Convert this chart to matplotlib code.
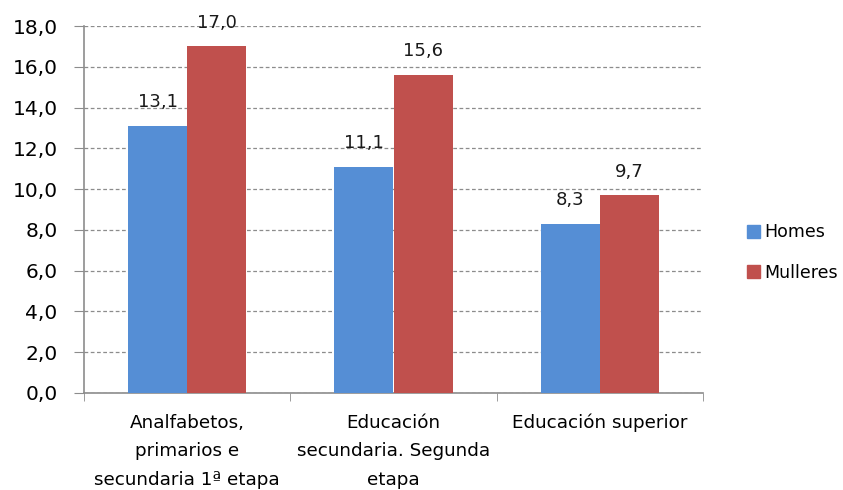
import matplotlib
matplotlib.use("Agg")
import matplotlib.pyplot as plt
import numpy as np
from matplotlib.patches import Patch

categories = ["Analfabetos,\nprimarios e\nsecundaria 1ª etapa",
              "Educación\nsecundaria. Segunda\netapa",
              "Educación superior"]
homes = [13.1, 11.1, 8.3]
mulleres = [17.0, 15.6, 9.7]
series_names = ["Homes", "Mulleres"]
yticks = [0, 2, 4, 6, 8, 10, 12, 14, 16, 18]

blue = "#558ED5"
red = "#C0504D"

plt.rcParams['font.family'] = ['DejaVu Sans']
fig = plt.figure(figsize=(8.43, 4.90), dpi=100)
ax = fig.add_axes([84/843, 1-393/490, (703-84)/843, (393-26)/490])

x = np.arange(len(categories))
w = 0.286
ax.bar(x - w/2, homes, w, color=blue, zorder=3)
ax.bar(x + w/2, mulleres, w, color=red, zorder=3)

for xi, v in zip(x, homes):
    ax.text(xi - w/2, v + 1.15, f"{v:.1f}".replace(".", ","), ha="center", va="center",
            fontsize=13, color="#1a1a1a")
for xi, v in zip(x, mulleres):
    ax.text(xi + w/2, v + 1.15, f"{v:.1f}".replace(".", ","), ha="center", va="center",
            fontsize=13, color="#1a1a1a")

ax.set_xlim(-0.5, len(categories) - 0.5)
ax.set_ylim(0, 18)
ax.set_yticks(yticks)
ax.set_yticklabels([f"{t:.1f}".replace(".", ",") for t in yticks], fontsize=14.5)
ax.yaxis.grid(True, linestyle=(0, (3, 2)), color="#8c8c8c", linewidth=0.9, zorder=0)
ax.set_axisbelow(True)

ax.set_xticks(x)
ax.set_xticklabels(categories, fontsize=13.2, linespacing=1.75)
ax.tick_params(axis="x", length=0, pad=15)
ax.set_xticks(np.arange(-0.5, len(categories)), minor=True)
ax.tick_params(axis="x", which="minor", length=6, color="#8c8c8c", direction="out")
ax.tick_params(axis="y", length=7, color="#8c8c8c", direction="out", pad=12)

for s in ["top", "right"]:
    ax.spines[s].set_visible(False)
for s in ["left", "bottom"]:
    ax.spines[s].set_color("#8c8c8c")
    ax.spines[s].set_linewidth(1.2)

handles = [Patch(color=blue, label=series_names[0]), Patch(color=red, label=series_names[1])]
fig.legend(handles=handles, loc="center left", bbox_to_anchor=(731/843, 1-252.5/490),
           frameon=False, fontsize=12.5, handlelength=0.75, handleheight=0.75,
           handletextpad=0.25, labelspacing=1.3)

fig.savefig("out.png", dpi=100)
